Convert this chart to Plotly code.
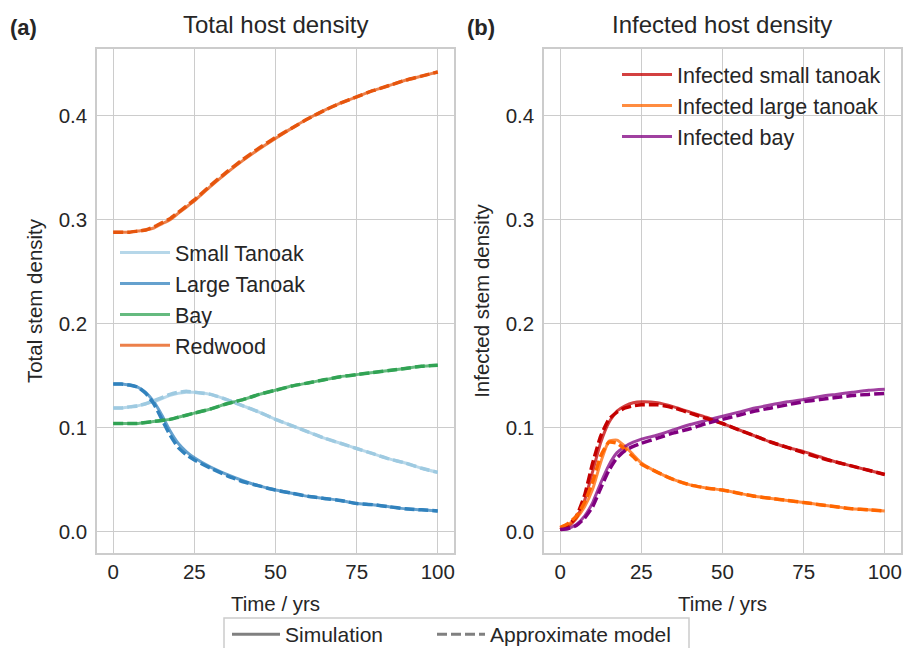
import plotly.graph_objects as go

# ---------------- data ----------------
t = [0, 2.5, 5, 7.5, 10, 12.5, 15, 17.5, 20, 22.5, 25, 30, 35, 40, 45, 50,
     55, 60, 65, 70, 75, 80, 85, 90, 95, 100]

# Panel (a): total host density (simulation)
small_tanoak_sim = [0.119, 0.119, 0.120, 0.121, 0.123, 0.125, 0.128, 0.131, 0.133, 0.134, 0.134,
                    0.132, 0.127, 0.121, 0.115, 0.108, 0.102, 0.096, 0.090, 0.085, 0.080,
                    0.075, 0.070, 0.066, 0.061, 0.057]
large_tanoak_sim = [0.142, 0.142, 0.141, 0.139, 0.134, 0.125, 0.112, 0.097, 0.085, 0.077, 0.071,
                    0.062, 0.055, 0.049, 0.044, 0.040, 0.037, 0.034, 0.032, 0.030, 0.027,
                    0.026, 0.024, 0.022, 0.021, 0.020]
bay_sim = [0.104, 0.104, 0.104, 0.104, 0.105, 0.106, 0.107, 0.108, 0.110, 0.112, 0.114,
           0.118, 0.123, 0.127, 0.132, 0.136, 0.140, 0.143, 0.146, 0.149, 0.151,
           0.153, 0.155, 0.157, 0.159, 0.160]
redwood_sim = [0.288, 0.288, 0.288, 0.289, 0.290, 0.292, 0.296, 0.300, 0.306, 0.312, 0.318,
               0.332, 0.345, 0.357, 0.368, 0.378, 0.388, 0.397, 0.405, 0.412, 0.418,
               0.424, 0.429, 0.434, 0.438, 0.442]

# Panel (a): approximate model
small_tanoak_apx = [0.119, 0.119, 0.120, 0.121, 0.123, 0.126, 0.129, 0.132, 0.134, 0.135, 0.134,
                    0.132, 0.127, 0.121, 0.115, 0.108, 0.102, 0.096, 0.090, 0.085, 0.080,
                    0.075, 0.070, 0.066, 0.061, 0.057]
large_tanoak_apx = [0.142, 0.142, 0.141, 0.139, 0.133, 0.123, 0.108, 0.093, 0.081, 0.074, 0.069,
                    0.061, 0.054, 0.048, 0.044, 0.040, 0.037, 0.034, 0.032, 0.030, 0.027,
                    0.026, 0.024, 0.022, 0.021, 0.020]
bay_apx = [0.104, 0.104, 0.104, 0.104, 0.105, 0.106, 0.107, 0.108, 0.110, 0.112, 0.114,
           0.118, 0.123, 0.127, 0.132, 0.136, 0.140, 0.143, 0.146, 0.149, 0.151,
           0.153, 0.155, 0.157, 0.159, 0.160]
redwood_apx = [0.288, 0.288, 0.288, 0.289, 0.290, 0.293, 0.297, 0.301, 0.307, 0.313, 0.319,
               0.333, 0.346, 0.358, 0.369, 0.379, 0.388, 0.397, 0.405, 0.412, 0.418,
               0.424, 0.429, 0.434, 0.438, 0.442]

# Panel (b): infected host density (simulation)
inf_small_sim = [0.002, 0.005, 0.013, 0.030, 0.058, 0.086, 0.105, 0.116, 0.121, 0.124, 0.125,
                 0.124, 0.120, 0.115, 0.110, 0.104, 0.098, 0.092, 0.086, 0.081, 0.077,
                 0.072, 0.067, 0.063, 0.059, 0.055]
inf_large_sim = [0.004, 0.007, 0.013, 0.024, 0.041, 0.067, 0.087, 0.088, 0.082, 0.074, 0.066,
                 0.057, 0.050, 0.045, 0.042, 0.040, 0.037, 0.034, 0.032, 0.030, 0.028,
                 0.026, 0.024, 0.022, 0.021, 0.020]
inf_bay_sim = [0.002, 0.003, 0.007, 0.015, 0.028, 0.047, 0.064, 0.076, 0.082, 0.086, 0.089,
               0.093, 0.098, 0.103, 0.107, 0.111, 0.115, 0.119, 0.122, 0.125, 0.127,
               0.130, 0.132, 0.134, 0.136, 0.137]

# Panel (b): approximate model
inf_small_apx = [0.002, 0.006, 0.015, 0.035, 0.066, 0.092, 0.108, 0.115, 0.119, 0.121, 0.122,
                 0.122, 0.119, 0.114, 0.109, 0.104, 0.098, 0.092, 0.086, 0.081, 0.076,
                 0.071, 0.067, 0.063, 0.059, 0.055]
inf_large_apx = [0.004, 0.008, 0.015, 0.028, 0.048, 0.073, 0.086, 0.085, 0.079, 0.072, 0.065,
                 0.057, 0.050, 0.045, 0.042, 0.040, 0.037, 0.034, 0.032, 0.030, 0.028,
                 0.026, 0.024, 0.022, 0.021, 0.020]
inf_bay_apx = [0.002, 0.003, 0.006, 0.013, 0.024, 0.042, 0.059, 0.071, 0.078, 0.082, 0.085,
               0.090, 0.095, 0.099, 0.104, 0.108, 0.112, 0.116, 0.119, 0.122, 0.125,
               0.127, 0.129, 0.131, 0.132, 0.133]

x_ticks = [0, 25, 50, 75, 100]
y_ticks = [0.0, 0.1, 0.2, 0.3, 0.4]

# ---------------- styling ----------------
FONT = "Liberation Sans, Arial, Helvetica, sans-serif"
TXT = "#262626"
GRID = "#cccccc"
ALPHA = 0.75
DASH = "10px,4px"
TICK_SIZE = 20.5
LABEL_SIZE = 20.5
TITLE_SIZE = 24
LEG_SIZE = 21.5


def rgba(hexcol, a):
    h = hexcol.lstrip("#")
    r, g, b = int(h[0:2], 16), int(h[2:4], 16), int(h[4:6], 16)
    return f"rgba({r},{g},{b},{a})"


panel_a = [
    ("Small Tanoak", small_tanoak_sim, small_tanoak_apx, "#9ecae1"),
    ("Large Tanoak", large_tanoak_sim, large_tanoak_apx, "#3182bd"),
    ("Bay", bay_sim, bay_apx, "#31a354"),
    ("Redwood", redwood_sim, redwood_apx, "#e6550d"),
]
panel_b = [
    ("Infected small tanoak", inf_small_sim, inf_small_apx, "#c40000"),
    ("Infected large tanoak", inf_large_sim, inf_large_apx, "#ff6600"),
    ("Infected bay", inf_bay_sim, inf_bay_apx, "#800080"),
]

fig = go.Figure()

for series, xa, ya, leg in [(panel_a, "x", "y", "legend"), (panel_b, "x2", "y2", "legend2")]:
    for name, sim, apx, col in series:
        fig.add_trace(go.Scatter(
            x=t, y=sim, mode="lines", name=name, xaxis=xa, yaxis=ya, legend=leg,
            line=dict(color=rgba(col, ALPHA), width=3, shape="spline", smoothing=0.5),
            showlegend=True))
    for name, sim, apx, col in series:
        fig.add_trace(go.Scatter(
            x=t, y=apx, mode="lines", name=name + " (approx.)", xaxis=xa, yaxis=ya,
            line=dict(color=col, width=3.5, dash=DASH, shape="spline", smoothing=0.5),
            showlegend=False))

# bottom legend entries (line-style key)
fig.add_trace(go.Scatter(x=[None], y=[None], mode="lines", name="Simulation",
                         line=dict(color="#808080", width=3), legend="legend3"))
fig.add_trace(go.Scatter(x=[None], y=[None], mode="lines", name="Approximate model",
                         line=dict(color="#808080", width=3, dash=DASH), legend="legend4"))

W, H = 903, 648
xdom_a = [97 / W, 454 / W]
xdom_b = [544 / W, 901 / W]
ydom = [1 - 553 / H, 1 - 49 / H]
yr = [-0.0205, 0.4641]
xr = [-5, 105]

axis_common = dict(showline=True, mirror=True, linecolor=GRID, linewidth=1.5,
                   showgrid=True, gridcolor=GRID, gridwidth=1.3, zeroline=False,
                   automargin=False, ticks="",
                   tickfont=dict(family=FONT, size=TICK_SIZE, color=TXT))


def ttl(text, standoff):
    return dict(text=text, font=dict(size=LABEL_SIZE, family=FONT, color=TXT), standoff=standoff)


leg_common = dict(xanchor="left", yanchor="top", bgcolor="rgba(0,0,0,0)",
                  font=dict(family=FONT, size=LEG_SIZE, color=TXT), itemwidth=50)
key_common = dict(xanchor="left", yanchor="top", bgcolor="rgba(0,0,0,0)",
                  font=dict(family=FONT, size=21, color=TXT), itemwidth=48)

fig.update_layout(
    width=W, height=H,
    margin=dict(l=0, r=0, t=0, b=0, autoexpand=False),
    paper_bgcolor="white", plot_bgcolor="white",
    font=dict(family=FONT, color=TXT),
    xaxis=dict(domain=xdom_a, range=xr, tickvals=x_ticks, anchor="y",
               title=ttl("Time / yrs", 14), ticklabelstandoff=0, **axis_common),
    yaxis=dict(domain=ydom, range=yr, tickvals=y_ticks, tickformat=".1f", anchor="x",
               title=ttl("Total stem density", 10), ticklabelstandoff=4, **axis_common),
    xaxis2=dict(domain=xdom_b, range=xr, tickvals=x_ticks, anchor="y2",
                title=ttl("Time / yrs", 14), ticklabelstandoff=0, **axis_common),
    yaxis2=dict(domain=ydom, range=yr, tickvals=y_ticks, tickformat=".1f", anchor="x2",
                title=ttl("Infected stem density", 10), ticklabelstandoff=4, **axis_common),
    legend=dict(x=115 / W, y=1 - 232 / H, **leg_common),
    legend2=dict(x=617 / W, y=1 - 54 / H, **leg_common),
    legend3=dict(x=227 / W, y=1 - 614 / H, **key_common),
    legend4=dict(x=432 / W, y=1 - 614 / H, **key_common),
    shapes=[dict(type="rect", xref="paper", yref="paper",
                 x0=224 / W, x1=689 / W, y0=-0.1, y1=1 - 618 / H,
                 line=dict(color=GRID, width=1.5), fillcolor="rgba(0,0,0,0)", layer="below")],
    annotations=[
        dict(text="Total host density", x=(xdom_a[0] + xdom_a[1]) / 2, y=1 - 25 / H,
             xref="paper", yref="paper", showarrow=False, xanchor="center", yanchor="middle",
             font=dict(family=FONT, size=TITLE_SIZE, color=TXT)),
        dict(text="Infected host density", x=(xdom_b[0] + xdom_b[1]) / 2, y=1 - 25 / H,
             xref="paper", yref="paper", showarrow=False, xanchor="center", yanchor="middle",
             font=dict(family=FONT, size=TITLE_SIZE, color=TXT)),
        dict(text="<b>(a)</b>", x=8 / W, y=1 - 28 / H, xref="paper", yref="paper",
             showarrow=False, xanchor="left", yanchor="middle",
             font=dict(family=FONT, size=22, color=TXT)),
        dict(text="<b>(b)</b>", x=465 / W, y=1 - 28 / H, xref="paper", yref="paper",
             showarrow=False, xanchor="left", yanchor="middle",
             font=dict(family=FONT, size=22, color=TXT)),
    ],
)

fig.write_html("out.html")
